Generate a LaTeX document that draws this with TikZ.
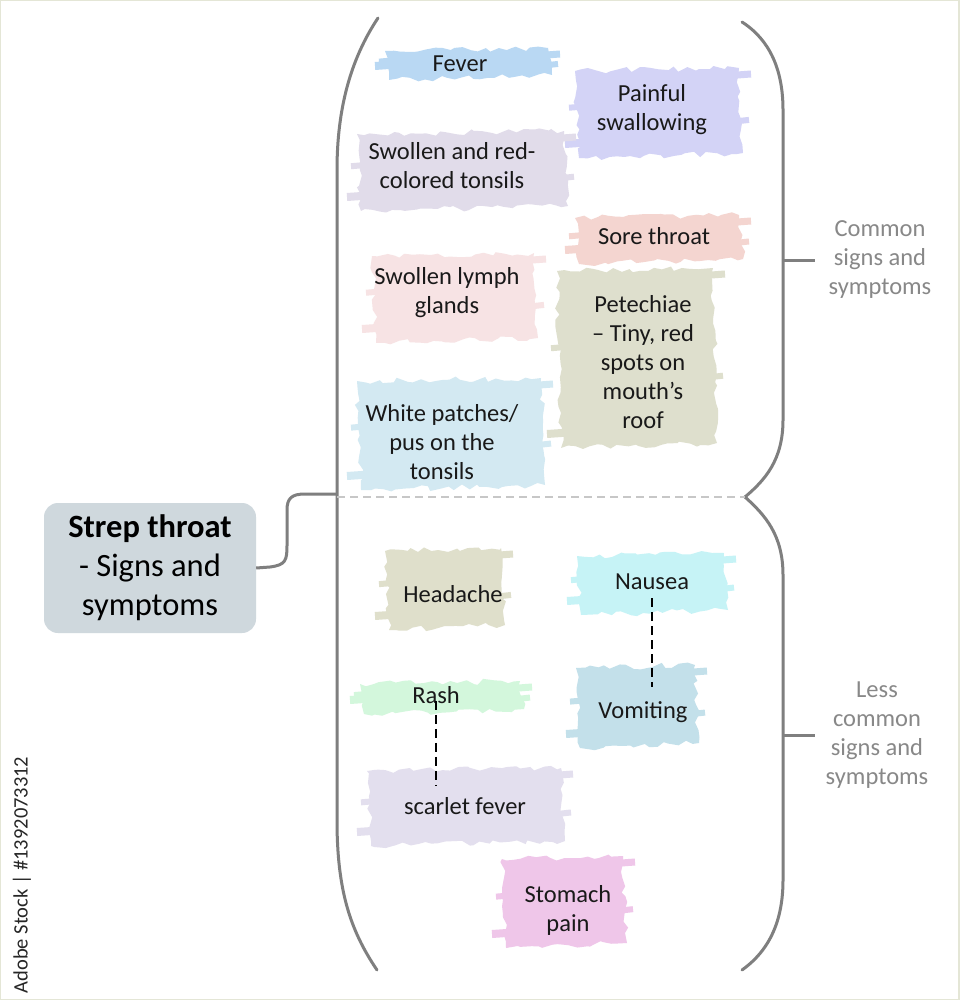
\documentclass[tikz,border=0pt]{standalone}
\usepackage{fontspec}
\setmainfont{Carlito}
\usetikzlibrary{decorations.pathmorphing}
\definecolor{cFever}{HTML}{B9D8F3}
\definecolor{cPain}{HTML}{D3D3F6}
\definecolor{cSwol}{HTML}{E1DCEA}
\definecolor{cSore}{HTML}{F4D5D0}
\definecolor{cLymph}{HTML}{F7E3E4}
\definecolor{cPete}{HTML}{DEDFCD}
\definecolor{cWhite}{HTML}{D3E9F2}
\definecolor{cHead}{HTML}{DFDFCB}
\definecolor{cNau}{HTML}{C6F3F6}
\definecolor{cVom}{HTML}{C3E0EA}
\definecolor{cRash}{HTML}{D3F7DC}
\definecolor{cScar}{HTML}{E3DFEE}
\definecolor{cStom}{HTML}{EFC6E9}
\definecolor{cCentral}{HTML}{CFD8DD}
\definecolor{cBracket}{HTML}{7F7F7F}
\definecolor{cSide}{HTML}{888888}
\definecolor{cFrame}{HTML}{E4E6D6}
\newcommand{\brushfill}[6]{%
  \pgfmathsetseed{#6}%
  \pgfmathsetmacro{\bxa}{#1}\pgfmathsetmacro{\bya}{#2}%
  \pgfmathsetmacro{\bxb}{#3}\pgfmathsetmacro{\byb}{#4}%
  \pgfmathsetmacro{\bym}{#2+0.45*(#4-#2)}%
  \pgfmathsetmacro{\byn}{#2+0.62*(#4-#2)}%
  \fill[#5, decorate, decoration={random steps, segment length=7pt, amplitude=3pt}]
    ({\bxa+12},{\bya+6}) -- ({\bxb-14},{\bya+3}) -- ({\bxb-10},{\byb-7}) -- ({\bxa+16},{\byb-2}) -- cycle;
  \draw[#5, line width=8pt] ({\bxa+2},{\byb-16}) -- ({\bxa+60},{\byb-20});
  \draw[#5, line width=7pt] ({\bxb-70},{\bya+14}) -- ({\bxb-2},{\bya+9});
  \draw[#5, line width=6pt] ({\bxa+6},{\bym}) -- ({\bxa+40},{\bym-3});
  \draw[#5, line width=6pt] ({\bxb-40},{\byn}) -- ({\bxb-4},{\byn-4});
}
\tikzset{
  txt/.style={font=\fontsize{24.5}{29}\selectfont, align=center, inner sep=2pt, text=black!90},
  side/.style={font=\fontsize{24.5}{29}\selectfont, align=center, inner sep=2pt, text=cSide},
  bracket/.style={draw=cBracket, line width=3pt, line cap=round},
  central/.style={fill=cCentral, rounded corners=14pt, minimum width=212pt, minimum height=130pt, align=center, inner sep=0pt, font=\fontsize{32.5}{39}\selectfont},
  linker/.style={draw=black, line width=1.3pt, dash pattern=on 9pt off 5pt}
}
\begin{document}
\begin{tikzpicture}[x=1pt,y=-1pt]
\useasboundingbox (0,0) rectangle (959,1000);
\fill[white] (0,0) rectangle (959,1000);
\draw[cFrame, line width=2.5pt] (0,0) rectangle (959,1000);

% brushes
\brushfill{373}{45}{562}{82}{cFever}{11}
\brushfill{563}{65}{753}{160}{cPain}{12}
\brushfill{345}{128}{578}{213}{cSwol}{13}
\brushfill{563}{212}{753}{266}{cSore}{14}
\brushfill{360}{250}{548}{345}{cLymph}{15}
\brushfill{545}{265}{727}{450}{cPete}{16}
\brushfill{345}{375}{555}{492}{cWhite}{17}
\brushfill{373}{545}{515}{632}{cHead}{18}
\brushfill{565}{550}{738}{617}{cNau}{19}
\brushfill{564}{662}{709}{750}{cVom}{20}
\brushfill{348}{678}{534}{716}{cRash}{21}
\brushfill{355}{765}{575}{848}{cScar}{22}
\brushfill{490}{853}{637}{950}{cStom}{23}

% brackets
\coordinate (lbtop) at (378,18);
\coordinate (lbbot) at (377,970);
\coordinate (lbmid) at (337,494);
\coordinate (cusp) at (745,497);
\coordinate (rttop) at (742,22);
\coordinate (rbbot) at (742,970);
\coordinate (tick1) at (783,260);
\coordinate (tick2) at (783,735);
\coordinate (tick1e) at (815,260);
\coordinate (tick2e) at (815,735);
\coordinate (divl) at (337,497);
\draw[bracket] (lbtop) .. controls (350,60) and (337,110) .. (337,170) -- (337,820) .. controls (337,890) and (350,930) .. (lbbot);
\draw[bracket] (rttop) .. controls (770,40) and (783,70) .. (783,110) -- (783,420) .. controls (783,460) and (765,480) .. (cusp);
\draw[bracket] (cusp) .. controls (765,515) and (783,535) .. (783,575) -- (783,880) .. controls (783,920) and (770,950) .. (rbbot);
\draw[draw=cBracket, line width=3pt] (tick1) -- (tick1e);
\draw[draw=cBracket, line width=3pt] (tick2) -- (tick2e);
\draw[draw=black!22, line width=1.2pt, dash pattern=on 8pt off 5pt] (divl) -- (cusp);

% central
\node[central] (central) at (150,568) {\textbf{Strep throat}\\- Signs and\\symptoms};
\draw[draw=cBracket, line width=3pt] (central.east) -- (270,567) .. controls (286,565) and (287,560) .. (287,545) -- (287,510) .. controls (287,498) and (292,494) .. (305,494) -- (lbmid);

% texts
\node[txt] (fever) at (460,64) {Fever};
\node[txt] (pain) at (652,110) {Painful\\swallowing};
\node[txt] (swol) at (452,166) {Swollen and red-\\colored tonsils};
\node[txt] (sore) at (654,236) {Sore throat};
\node[txt] (lymph) at (447,293) {Swollen lymph\\glands};
\node[txt] (pete) at (643,362) {Petechiae\\– Tiny, red\\spots on\\mouth’s\\roof};
\node[txt] (white) at (442,442) {White patches/\\pus on the\\tonsils};
\node[txt] (head) at (453,594) {Headache};
\node[txt] (nausea) at (652,582) {Nausea};
\node[txt] (vomit) at (643,712) {Vomiting};
\node[txt] (rash) at (436,695) {Rash};
\node[txt] (scar) at (465,806) {scarlet fever};
\node[txt] (stom) at (568,910) {Stomach\\pain};

\coordinate (vt) at (nausea.south |- vomit.north);
\coordinate (st) at (rash.south |- scar.north);
\draw[linker] ([yshift=-6pt]nausea.south) -- ([yshift=12pt]vt);
\draw[linker] ([yshift=5pt]rash.south) -- ([yshift=10pt]st);

\node[side] (common) at (880,260) {Common\\signs and\\symptoms};
\node[side] (less) at (877,735) {Less\\common\\signs and\\symptoms};

\node[rotate=90, font=\fontsize{20.5}{24}\selectfont, text=black!85] (credit) at (22,875) {Adobe Stock | \#1392073312};
\end{tikzpicture}
\end{document}
